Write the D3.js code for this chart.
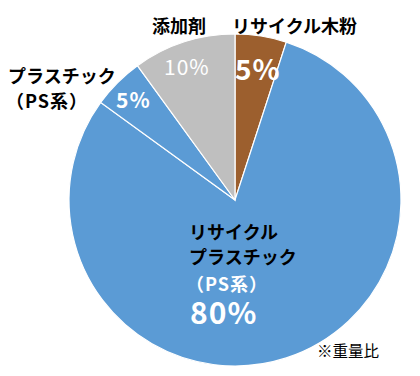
<!DOCTYPE html>
<html>
<head>
<meta charset="utf-8">
<script src="https://cdn.jsdelivr.net/npm/d3@7"></script>
<style>
  body { margin: 0; background: #fff; }
  svg text { font-family: "Noto Sans CJK JP", "Noto Sans", sans-serif; }
</style>
</head>
<body>
<div id="chart"></div>
<script>
// slice order clockwise from 12 o'clock
const categories = ["リサイクル木粉", "リサイクルプラスチック（PS系）", "プラスチック（PS系）", "添加剤"];
const shares = [5, 80, 5, 10];
const colors = ["#9C5F2E", "#5B9BD5", "#5B9BD5", "#BFBFBF"];

const width = 420, height = 376;
const cx = 235, cy = 200, r = 166;

const svg = d3.select("#chart").append("svg")
  .attr("width", width)
  .attr("height", height);

const pie = d3.pie().sort(null).value(d => d);
const arc = d3.arc().innerRadius(0).outerRadius(r);

const g = svg.append("g").attr("transform", `translate(${cx},${cy})`);

g.selectAll("path")
  .data(pie(shares))
  .enter().append("path")
  .attr("d", arc)
  .attr("fill", (d, i) => colors[i])
  .attr("stroke", "#fff")
  .attr("stroke-width", 1.2);

// text labels
function label(x, y, txt, size, fill, weight, spacing) {
  svg.append("text")
    .attr("x", x).attr("y", y)
    .attr("font-size", size)
    .attr("font-weight", weight || 700)
    .attr("fill", fill)
    .attr("letter-spacing", spacing || 0)
    .text(txt);
}

// outside labels
label(152, 33, "添加剤", 18, "#000");
label(232, 33, "リサイクル木粉", 18, "#000");
label(8, 83, "プラスチック", 18, "#000");
label(6, 108, "（PS系）", 18, "#000", 700, 1);

// percentages in small slices
label(164, 75, shares[3] + "%", 21, "#fff", 400, 1);
label(235, 80, shares[0] + "%", 28, "#fff", 700, 1);
label(116, 108, shares[2] + "%", 21, "#fff", 700, 1);

// big slice label
label(189, 239, "リサイクル", 18, "#000");
label(189, 264, "プラスチック", 18, "#000");
label(186, 291, "（PS系）", 18, "#fff", 700, 1);
label(190, 324, shares[1] + "%", 30, "#fff", 700, 1);

label(317, 357, "※重量比", 15.5, "#000", 400);
</script>
</body>
</html>
